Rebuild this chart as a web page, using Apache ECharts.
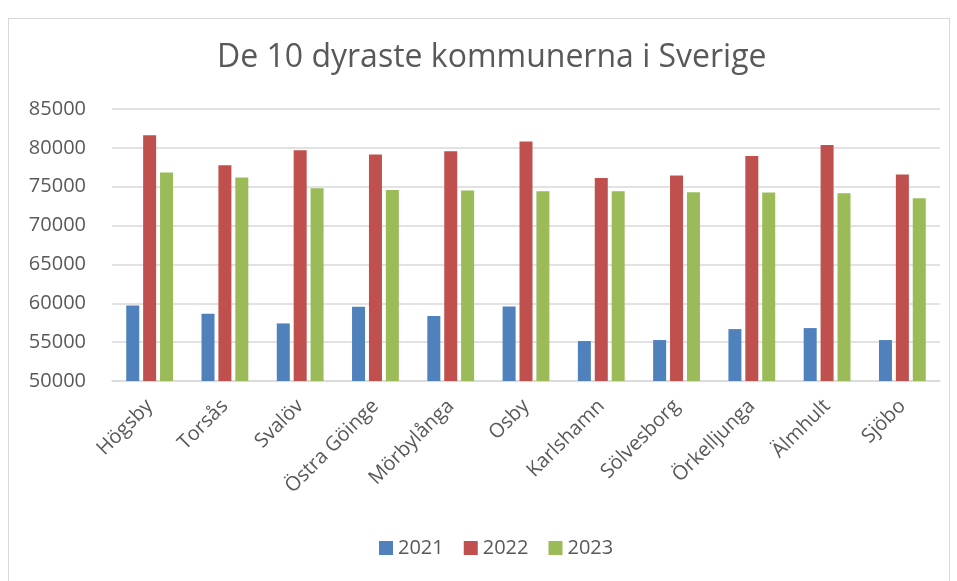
<!DOCTYPE html>
<html>
<head>
<meta charset="utf-8">
<script src="https://cdn.jsdelivr.net/npm/echarts@6/dist/echarts.min.js"></script>
<style>
html, body { margin: 0; padding: 0; background: #fff; }
#frame { position: absolute; left: 8px; top: 18px; width: 942px; height: 570px; border: 1px solid #d9d9d9; box-sizing: border-box; }
#main { position: absolute; left: 0; top: 0; width: 957px; height: 581px; }
</style>
</head>
<body>
<div id="frame"></div>
<div id="main"></div>
<script>
// kommuner och värden
const kommuner = ['Högsby', 'Torsås', 'Svalöv', 'Östra Göinge', 'Mörbylånga', 'Osby', 'Karlshamn', 'Sölvesborg', 'Örkelljunga', 'Älmhult', 'Sjöbo'];
const ar2021 = [59730, 58650, 57410, 59550, 58350, 59600, 55140, 55270, 56680, 56810, 55270];
const ar2022 = [81620, 77760, 79690, 79140, 79560, 80810, 76130, 76440, 78960, 80370, 76570];
const ar2023 = [76830, 76180, 74810, 74590, 74510, 74420, 74420, 74290, 74250, 74160, 73520];
const years = ['2021', '2022', '2023'];

let myChart = echarts.init(document.getElementById('main'));
const textColor = '#595959';
const font = 'Open Sans';

let option = {
    animation: false,
    title: {
        text: 'De 10 dyraste kommunerna i Sverige',
        left: 212,
        top: 37,
        textStyle: { color: textColor, fontSize: 32, fontWeight: 'normal', fontFamily: font }
    },
    legend: {
        data: years,
        top: 533,
        left: 374,
        itemWidth: 14,
        itemHeight: 14,
        itemGap: 20,
        icon: 'rect',
        textStyle: { color: textColor, fontSize: 20, fontFamily: font }
    },
    grid: {
        left: 112,
        right: 17,
        top: 109,
        bottom: 200,
        containLabel: false
    },
    xAxis: {
        type: 'category',
        data: kommuner,
        axisTick: { show: false },
        axisLine: { lineStyle: { color: '#d9d9d9', width: 1.5 } },
        axisLabel: {
            rotate: 45,
            interval: 0,
            margin: 22,
            color: textColor,
            fontSize: 20,
            fontFamily: font
        }
    },
    yAxis: {
        type: 'value',
        min: 50000,
        max: 85000,
        interval: 5000,
        axisLine: { show: false },
        axisTick: { show: false },
        axisLabel: {
            color: textColor,
            fontSize: 20,
            fontFamily: font,
            margin: 26,
            formatter: function (v) { return String(v); }
        },
        splitLine: { lineStyle: { color: '#d9d9d9', width: 1.5 } }
    },
    series: [
        { name: '2021', type: 'bar', data: ar2021, barWidth: 13, barGap: '30%', itemStyle: { color: '#4f81bd' } },
        { name: '2022', type: 'bar', data: ar2022, barWidth: 13, barGap: '30%', itemStyle: { color: '#c0504d' } },
        { name: '2023', type: 'bar', data: ar2023, barWidth: 13, barGap: '30%', itemStyle: { color: '#9bbb59' } }
    ]
};
myChart.setOption(option);
</script>
</body>
</html>
